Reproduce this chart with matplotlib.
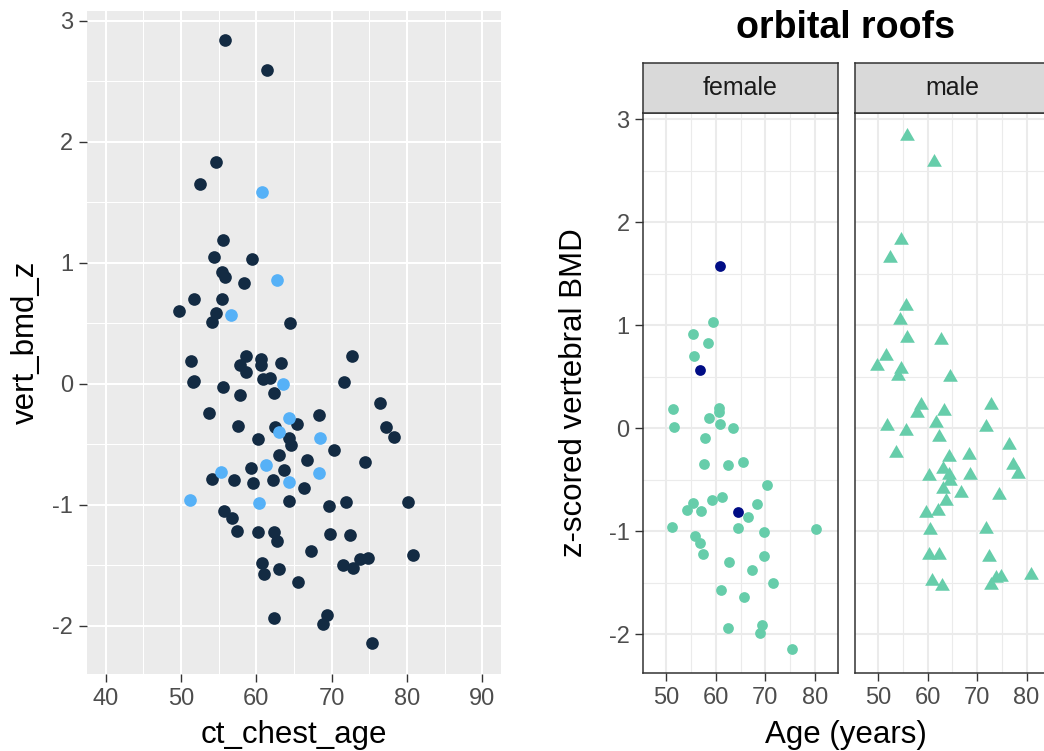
import matplotlib
matplotlib.use("Agg")
import matplotlib.pyplot as plt
from matplotlib.ticker import MultipleLocator
import numpy as np

plt.rcParams['font.family'] = ['Liberation Sans', 'DejaVu Sans']
plt.rcParams['axes.unicode_minus'] = False

# ---------------- data ----------------
female_age = [60.8, 59.4, 55.4, 58.4, 55.5, 56.7, 51.35, 60.7, 60.7, 58.6, 60.85, 51.6, 63.5,
              57.9, 57.6, 62.5, 65.4, 70.3, 61.25, 59.3, 55.3, 68.4, 54.2, 57.1, 64.4, 66.4,
              51.15, 64.4, 69.7, 80.2, 55.7, 56.75, 57.4, 62.7, 69.8, 67.25, 71.5, 61.05,
              65.6, 62.4, 69.4, 68.9, 75.4]
female_bmd = [1.58, 1.03, 0.92, 0.83, 0.70, 0.57, 0.19, 0.20, 0.155, 0.10, 0.04, 0.01, 0.00,
              -0.09, -0.35, -0.36, -0.33, -0.55, -0.67, -0.70, -0.73, -0.74, -0.79, -0.80, -0.81,
              -0.86, -0.96, -0.97, -1.01, -0.98, -1.05, -1.11, -1.22, -1.30, -1.24, -1.38, -1.50,
              -1.57, -1.64, -1.94, -1.91, -1.99, -2.14]
# dark points in the faceted panel
female_flag = [1, 0, 0, 0, 0, 1, 0, 0, 0, 0, 0, 0, 0,
               0, 0, 0, 0, 0, 0, 0, 0, 0, 0, 0, 1,
               0, 0, 0, 0, 0, 0, 0, 0, 0, 0, 0, 0,
               0, 0, 0, 0, 0, 0]
# light-blue points in the left panel
female_hl = [1, 0, 0, 0, 0, 1, 0, 0, 0, 0, 0, 0, 1,
             0, 0, 0, 0, 0, 1, 0, 1, 1, 0, 0, 1,
             0, 1, 0, 0, 0, 0, 0, 0, 0, 0, 0, 0,
             0, 0, 0, 0, 0, 0]

male_age = [55.8, 61.4, 54.7, 52.5, 55.65, 54.4, 55.9, 62.7, 51.7, 49.8, 54.7, 54.1, 64.5,
            58.7, 57.9, 63.3, 72.75, 51.8, 61.8, 71.7, 55.6, 62.4, 53.7, 76.4, 64.4, 68.4,
            77.2, 78.3, 60.3, 63.05, 64.4, 64.6, 68.5, 63.05, 66.7, 74.4, 63.65, 59.6, 62.2,
            60.4, 71.9, 60.3, 62.3, 72.5, 60.8, 63.0, 72.9, 73.75, 74.8, 80.8]
male_bmd = [2.84, 2.59, 1.83, 1.65, 1.19, 1.05, 0.88, 0.86, 0.70, 0.60, 0.58, 0.51, 0.50,
            0.23, 0.15, 0.17, 0.23, 0.02, 0.05, 0.01, -0.03, -0.08, -0.24, -0.16, -0.28, -0.26,
            -0.36, -0.44, -0.46, -0.40, -0.45, -0.51, -0.45, -0.59, -0.63, -0.65, -0.71, -0.82,
            -0.80, -0.99, -0.98, -1.23, -1.23, -1.25, -1.48, -1.53, -1.52, -1.45, -1.44, -1.42]
male_hl = [0, 0, 0, 0, 0, 0, 0, 1, 0, 0, 0, 0, 0,
           0, 0, 0, 0, 0, 0, 0, 0, 0, 0, 0, 1, 0,
           0, 0, 0, 1, 0, 0, 1, 0, 0, 0, 0, 0, 0,
           1, 0, 0, 0, 0, 0, 0, 0, 0, 0, 0]

x_ticks_left = [40, 50, 60, 70, 80, 90]
y_ticks = [-2, -1, 0, 1, 2, 3]
x_ticks_right = [50, 60, 70, 80]
facet_labels = ["female", "male"]

# ---------------- figure ----------------
W, H = 1044, 751
fig = plt.figure(figsize=(W / 100, H / 100), dpi=100)


def frac(x0, y0, x1, y1):
    return [x0 / W, 1 - y1 / H, (x1 - x0) / W, (y1 - y0) / H]


TICKC = '#333333'
LABC = '#4D4D4D'

# ---------- left panel (theme_gray) ----------
ax1 = fig.add_axes(frac(86.7, 11, 501, 674))
ax1.set_facecolor('#EBEBEB')
for s in ax1.spines.values():
    s.set_visible(False)
ax1.set_xlim(37.5, 92.5)
ax1.set_ylim(-2.40, 3.08)
ax1.set_xticks(x_ticks_left)
ax1.set_yticks(y_ticks)
ax1.xaxis.set_minor_locator(MultipleLocator(5))
ax1.yaxis.set_minor_locator(MultipleLocator(0.5))
ax1.grid(which='major', color='white', lw=1.5)
ax1.grid(which='minor', color='white', lw=0.75)
ax1.set_axisbelow(True)
ax1.tick_params(which='major', length=5.8, width=1.0, color=TICKC,
                labelcolor=LABC, labelsize=17, pad=4)
ax1.tick_params(which='minor', length=0)

all_age = np.array(female_age + male_age)
all_bmd = np.array(female_bmd + male_bmd)
all_hl = np.array(female_hl + male_hl).astype(bool)
ax1.scatter(all_age[~all_hl], all_bmd[~all_hl], s=83, color='#132B43', lw=0, zorder=3)
ax1.scatter(all_age[all_hl], all_bmd[all_hl], s=83, color='#56B1F7', lw=0, zorder=4)

fig.text(294 / W, 1 - 743 / H, 'ct_chest_age', ha='center', va='baseline', fontsize=22.5)
fig.text(26 / W, 1 - 342.5 / H, 'vert_bmd_z', ha='center', va='center',
         rotation=90, fontsize=22.5)

# ---------- right panels (theme_bw facets) ----------
GREEN = '#66CDAA'
DARK = '#000C85'
tri = [(0, 0.577), (-0.5, -0.289), (0.5, -0.289)]

py0, py1 = 112.7, 673.3
panels = [(643.3, 837.7), (855.0, 1049.4)]
datasets = [(female_age, female_bmd, female_flag), (male_age, male_bmd, None)]

for i, ((x0, x1), (ages, bmds, flags)) in enumerate(zip(panels, datasets)):
    ax = fig.add_axes(frac(x0, py0, x1, py1))
    ax.set_facecolor('white')
    for s in ax.spines.values():
        s.set_color(TICKC)
        s.set_linewidth(1.1)
        s.set_zorder(5)
    ax.set_xlim(45.35, 84.6)
    ax.set_ylim(-2.379, 3.064)
    ax.set_xticks(x_ticks_right)
    ax.set_yticks(y_ticks)
    ax.xaxis.set_minor_locator(MultipleLocator(5))
    ax.yaxis.set_minor_locator(MultipleLocator(0.5))
    ax.grid(which='major', color='#EBEBEB', lw=1.5)
    ax.grid(which='minor', color='#EBEBEB', lw=0.8)
    ax.set_axisbelow(True)
    ax.tick_params(which='major', length=5.8, width=1.0, color=TICKC,
                   labelcolor=LABC, labelsize=17, pad=4)
    ax.tick_params(which='minor', length=0)
    if i == 1:
        ax.tick_params(axis='y', which='both', left=False, labelleft=False)
        ax.scatter(ages, bmds, s=150, marker=tri, color=GREEN, lw=0, zorder=3)
    else:
        a = np.array(ages)
        b = np.array(bmds)
        f = np.array(flags).astype(bool)
        ax.scatter(a[~f], b[~f], s=60, color=GREEN, lw=0, zorder=3)
        ax.scatter(a[f], b[f], s=60, color=DARK, lw=0, zorder=4)

    # strip
    sx = fig.add_axes(frac(x0, 62.7, x1, py0))
    sx.set_facecolor('#D9D9D9')
    sx.set_xticks([])
    sx.set_yticks([])
    for s in sx.spines.values():
        s.set_color(TICKC)
        s.set_linewidth(1.1)
    sx.text(0.5, 0.5, facet_labels[i], transform=sx.transAxes, ha='center',
            va='center', fontsize=18, color='#1A1A1A')

fig.text(845 / W, 1 - 28 / H, 'orbital roofs', ha='center', va='center',
         fontsize=27, fontweight='bold')
fig.text(846 / W, 1 - 743 / H, 'Age (years)', ha='center', va='baseline', fontsize=22.5)
fig.text(574 / W, 1 - 393 / H, 'z-scored vertebral BMD', ha='center', va='center',
         rotation=90, fontsize=22.5)

fig.savefig('out.png', dpi=100)
